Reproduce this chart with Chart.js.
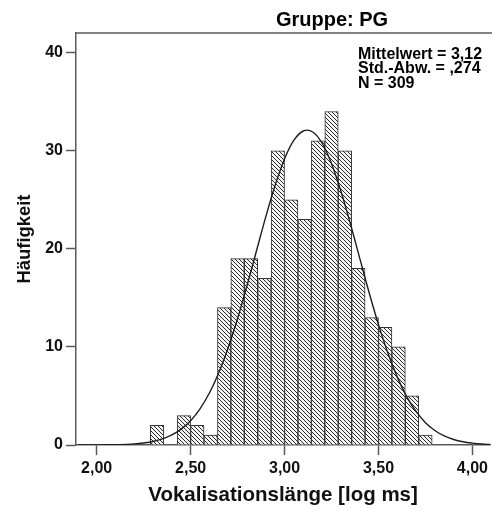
<!DOCTYPE html>
<html>
<head>
<meta charset="utf-8">
<script src="https://cdn.jsdelivr.net/npm/chart.js@4/dist/chart.umd.min.js"></script>
<style>
    html, body { margin: 0; padding: 0; background: #fff; }
    #wrap { width: 492px; height: 511px; }
</style>
</head>
<body>
<div id="wrap"><canvas id="histChart" width="492" height="511"></canvas></div>
<script>
// bin centres (bin width ~0.0714) and counts per bin
const binCenters = [2.3214, 2.3929, 2.4643, 2.5357, 2.6071, 2.6786, 2.75, 2.8214, 2.8929, 2.9643,
    3.0357, 3.1071, 3.1786, 3.25, 3.3214, 3.3929, 3.4643, 3.5357, 3.6071, 3.6786, 3.75];
const counts = [2, 0, 3, 2, 1, 14, 19, 19, 17, 30, 25, 23, 31, 34, 30, 18, 13, 12, 10, 5, 1];

// fitted normal curve
const curveX = [1.90, 1.95, 2.00, 2.05, 2.10, 2.15, 2.20, 2.25, 2.30, 2.35, 2.40, 2.45, 2.50, 2.55,
    2.60, 2.65, 2.70, 2.75, 2.80, 2.85, 2.90, 2.95, 3.00, 3.05, 3.10, 3.15, 3.20, 3.25, 3.30,
    3.35, 3.40, 3.45, 3.50, 3.55, 3.60, 3.65, 3.70, 3.75, 3.80, 3.85, 3.90, 3.95, 4.00, 4.05, 4.10];
const curveY = [0.00, 0.00, 0.01, 0.02, 0.03, 0.06, 0.11, 0.21, 0.36, 0.62, 1.02, 1.62, 2.48, 3.69,
    5.30, 7.37, 9.92, 12.90, 16.23, 19.75, 23.25, 26.48, 29.16, 31.07, 32.01, 31.91, 30.76, 28.68, 25.87,
    22.58, 19.05, 15.55, 12.27, 9.37, 6.92, 4.94, 3.42, 2.28, 1.48, 0.92, 0.56, 0.33, 0.19, 0.10, 0.05];

const yTicks = [0, 10, 20, 30, 40];
const xTicks = [2.0, 2.5, 3.0, 3.5, 4.0];
const statLines = ["Mittelwert = 3,12", "Std.-Abw. = ,274", "N = 309"];
const panelTitle = "Gruppe: PG";

const FONT = "'Liberation Sans', Arial, sans-serif";
const axisGrey = "#5a5a5a";

function makeHatch() {
    const c = document.createElement("canvas");
    c.width = 4;
    c.height = 4;
    const g = c.getContext("2d");
    g.fillStyle = "#f4f4f4";
    g.fillRect(0, 0, 4, 4);
    g.strokeStyle = "#2b2b2b";
    g.lineWidth = 1;
    g.beginPath();
    g.moveTo(-1, -1); g.lineTo(5, 5);
    g.moveTo(-1, 3); g.lineTo(1, 5);
    g.moveTo(3, -1); g.lineTo(5, 1);
    g.stroke();
    return g.createPattern(c, "repeat");
}

const framePlugin = {
    id: "frame",
    afterDraw(chart) {
        const { ctx, chartArea } = chart;
        ctx.save();
        // top border of the panel
        ctx.strokeStyle = axisGrey;
        ctx.lineWidth = 1.5;
        ctx.beginPath();
        ctx.moveTo(chartArea.left, chartArea.top);
        ctx.lineTo(chart.width, chartArea.top);
        ctx.stroke();

        ctx.fillStyle = "#000";
        ctx.font = "bold 20px " + FONT;
        ctx.textAlign = "center";
        ctx.textBaseline = "alphabetic";
        ctx.fillText(panelTitle, 332, 26);

        ctx.font = "bold 16px " + FONT;
        ctx.textAlign = "left";
        statLines.forEach((t, i) => ctx.fillText(t, 358, 59 + i * 14.4));
        ctx.restore();
    }
};

new Chart(document.getElementById("histChart"), {
    data: {
        datasets: [
            {
                type: "line",
                data: curveX.map((x, i) => ({ x, y: curveY[i] })),
                borderColor: "#1e1e1e",
                borderWidth: 1.4,
                pointRadius: 0,
                tension: 0.4,
                order: 0
            },
            {
                type: "bar",
                data: binCenters.map((x, i) => ({ x, y: counts[i] })),
                backgroundColor: makeHatch(),
                borderColor: "#333",
                borderWidth: 1,
                barPercentage: 1,
                categoryPercentage: 1,
                order: 1
            }
        ]
    },
    options: {
        responsive: false,
        animation: false,
        layout: { padding: { top: 33, left: 0, right: 0, bottom: 0 } },
        plugins: { legend: { display: false }, tooltip: { enabled: false } },
        scales: {
            x: {
                type: "linear",
                min: 1.89,
                max: 4.094,
                offset: false,
                afterFit(s) { s.height = 66; },
                afterBuildTicks(s) { s.ticks = xTicks.map(v => ({ value: v })); },
                ticks: {
                    includeBounds: false,
                    color: "#111",
                    padding: 4,
                    font: { family: FONT, size: 16, weight: "bold" },
                    callback: v => v.toFixed(2).replace(".", ",")
                },
                grid: { offset: false, drawOnChartArea: false, tickLength: 10, tickColor: axisGrey, tickWidth: 1.5 },
                border: { color: axisGrey, width: 1.5 },
                title: {
                    display: true,
                    text: "Vokalisationslänge [log ms]",
                    color: "#111",
                    padding: { top: 0, bottom: 3 },
                    font: { family: FONT, size: 20.5, weight: "bold" }
                }
            },
            y: {
                min: 0,
                max: 42,
                afterFit(s) { s.width = 76; },
                afterBuildTicks(s) { s.ticks = yTicks.map(v => ({ value: v })); },
                ticks: {
                    includeBounds: false,
                    color: "#111",
                    padding: 3,
                    font: { family: FONT, size: 16, weight: "bold" }
                },
                grid: { drawOnChartArea: false, tickLength: 10, tickColor: axisGrey, tickWidth: 1.5 },
                border: { color: axisGrey, width: 1.5 },
                title: {
                    display: true,
                    text: "Häufigkeit",
                    color: "#111",
                    padding: { top: 14, bottom: 0 },
                    font: { family: FONT, size: 18.4, weight: "bold" }
                }
            }
        }
    },
    plugins: [framePlugin]
});
</script>
</body>
</html>
